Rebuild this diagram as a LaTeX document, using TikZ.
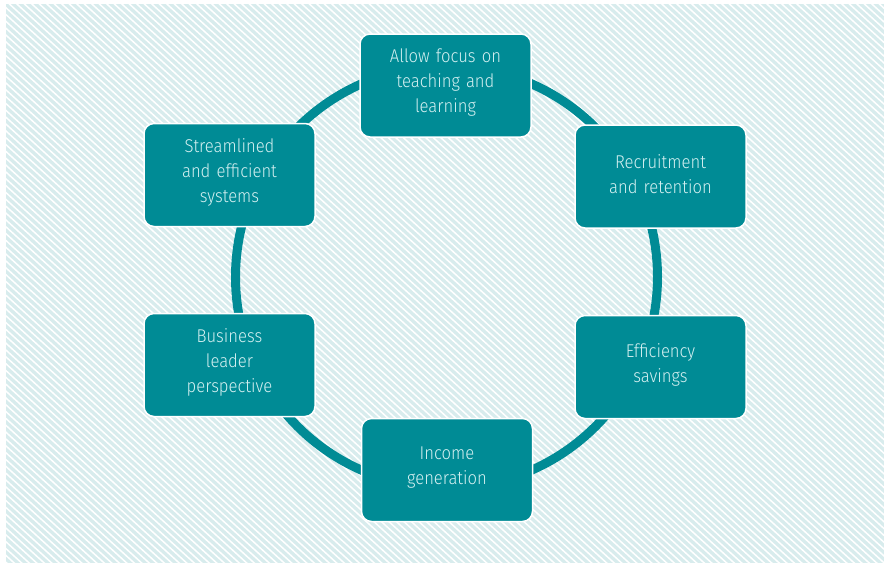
\documentclass[tikz,border=0pt]{standalone}
\usepackage{fontspec}
\setmainfont{Fira Sans Light}[FakeStretch=0.9]
\definecolor{teal1}{HTML}{008B95}
\definecolor{hatchbg}{HTML}{D8ECED}
\definecolor{txt}{HTML}{D4F0F1}
\tikzset{
  box/.style={draw=white, line width=1.5pt, fill=teal1, rounded corners=10pt,
    minimum width=171pt, minimum height=103pt, inner sep=0pt},
  lbl/.style={text width=160pt, align=center, yshift=2.5pt,
    text=txt, font=\fontsize{18.5}{25}\selectfont, inner sep=0pt},
  ring/.style={draw=teal1, line width=9pt}
}
\begin{document}
\begin{tikzpicture}[x=1pt,y=-1pt]
\useasboundingbox (0,0) rectangle (884,566);
\fill[white] (0,0) rectangle (884,566);
\begin{scope}
\clip (6,4) rectangle (884,563);
\fill[hatchbg] (6,4) rectangle (884,563);
\foreach \c in {-700,-692.5,...,890} {
  \draw[white, line width=1.5pt] (\c,0) -- ++(620,566);
}
\end{scope}
\coordinate (ctr) at (446.5,277);
\draw[ring] (ctr) circle[radius=211pt];
\node[box] (top) at (445.5,85.5) {};
\node[box] (rec) at (660.5,176.5) {};
\node[box] (eff) at (660.5,367) {};
\node[box] (inc) at (447,470) {};
\node[box] (bus) at (229.5,365) {};
\node[box] (str) at (229.5,175) {};
\node[lbl] (topt) at (top) {Allow focus on\\teaching and\\learning};
\node[lbl] (rect) at (rec) {Recruitment\\and retention};
\node[lbl] (efft) at (eff) {Efficiency\\savings};
\node[lbl] (inct) at (inc) {Income\\generation};
\node[lbl] (bust) at (bus) {Business\\leader\\perspective};
\node[lbl] (strt) at (str) {Streamlined\\and efficient\\systems};
\end{tikzpicture}
\end{document}
